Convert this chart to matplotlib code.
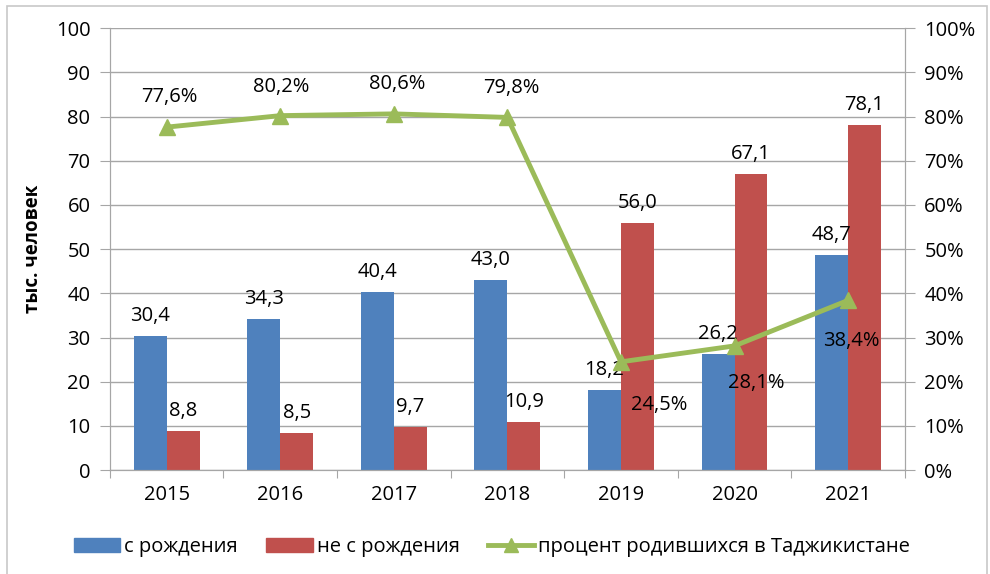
import matplotlib
matplotlib.use("Agg")
import matplotlib.pyplot as plt
import matplotlib.patches as mpatches
from matplotlib.lines import Line2D
import numpy as np

years = ["2015", "2016", "2017", "2018", "2019", "2020", "2021"]
from_birth = [30.4, 34.3, 40.4, 43.0, 18.2, 26.2, 48.7]
not_from_birth = [8.8, 8.5, 9.7, 10.9, 56.0, 67.1, 78.1]
pct_born_tj = [77.6, 80.2, 80.6, 79.8, 24.5, 28.1, 38.4]

# label offsets of the percent labels (pixels, from marker)
pct_offsets = [(3, 30), (1, 29), (3, 30), (4, 29), (38, -43), (22, -37), (3, -41)]

blue = "#4F81BD"
red = "#C0504D"
green = "#9BBB59"
grid_c = "#A6A6A6"

plt.rcParams['font.family'] = ['Open Sans', 'DejaVu Sans']
fs = 14.5

fig = plt.figure(figsize=(9.9, 5.74), dpi=100)
ax = fig.add_axes([0.111, 0.181, 0.803, 0.770])
ax2 = ax.twinx()

x = np.arange(len(years))
w = 0.29
ax.bar(x - w / 2, from_birth, w, color=blue, zorder=2)
ax.bar(x + w / 2, not_from_birth, w, color=red, zorder=2)

def fmt(v):
    return ("%.1f" % v).replace(".", ",")

for i in range(len(years)):
    ax.annotate(fmt(from_birth[i]), (x[i] - w / 2, from_birth[i]), xytext=(0, 10),
                textcoords="offset pixels", ha="center", va="bottom", fontsize=fs, zorder=5)
    ax.annotate(fmt(not_from_birth[i]), (x[i] + w / 2, not_from_birth[i]), xytext=(0, 10),
                textcoords="offset pixels", ha="center", va="bottom", fontsize=fs, zorder=5)

ax.set_ylim(0, 100)
ax.set_yticks(np.arange(0, 101, 10))
ax.set_xlim(-0.5, len(years) - 0.5)
ax.grid(axis="y", color=grid_c, lw=1, zorder=0)
ax.set_axisbelow(True)

ax.set_xticks(np.arange(-0.5, len(years), 1))
ax.set_xticklabels([])
ax.set_xticks(x, minor=True)
ax.set_xticklabels(years, minor=True, fontsize=fs)
ax.tick_params(axis="x", which="minor", length=0, pad=11)
ax.tick_params(axis="x", which="major", length=6, color=grid_c)
ax.tick_params(axis="y", length=7, color=grid_c, labelsize=fs, pad=7)
ax.set_ylabel("тыс. человек", fontsize=13.5, fontweight="bold", labelpad=9)

ax2.plot(x, pct_born_tj, color=green, lw=3.5, marker="^", markersize=12, zorder=4)
ax2.set_ylim(0, 100)
ax2.set_yticks(np.arange(0, 101, 10))
ax2.set_yticklabels(["%d%%" % v for v in range(0, 101, 10)])
ax2.tick_params(axis="y", length=7, color=grid_c, labelsize=fs, pad=7)
for i in range(len(years)):
    dx, dy = pct_offsets[i]
    ax2.annotate(fmt(pct_born_tj[i]) + "%", (x[i], pct_born_tj[i]), xytext=(dx, dy),
                 textcoords="offset pixels", ha="center", va="center", fontsize=fs, zorder=6)

for a in (ax, ax2):
    a.spines["top"].set_visible(False)
    for s in ("left", "right", "bottom"):
        a.spines[s].set_color(grid_c)

handles = [
    mpatches.Patch(color=blue, label="с рождения"),
    mpatches.Patch(color=red, label="не с рождения"),
    Line2D([], [], color=green, lw=3.5, marker="^", markersize=10, label="процент родившихся в Таджикистане"),
]
fig.legend(handles=handles, loc="center", bbox_to_anchor=(0.497, 0.047), ncol=3, frameon=False,
           fontsize=fs, handlelength=2.3, handletextpad=0.2, columnspacing=1.4)

border = mpatches.Rectangle((7 / 990, -0.05), 980 / 990, 1.05 - 6 / 574, transform=fig.transFigure,
                            fill=False, edgecolor="#C8C8C8", lw=1.2)
fig.add_artist(border)

fig.savefig("out.png", dpi=100)
